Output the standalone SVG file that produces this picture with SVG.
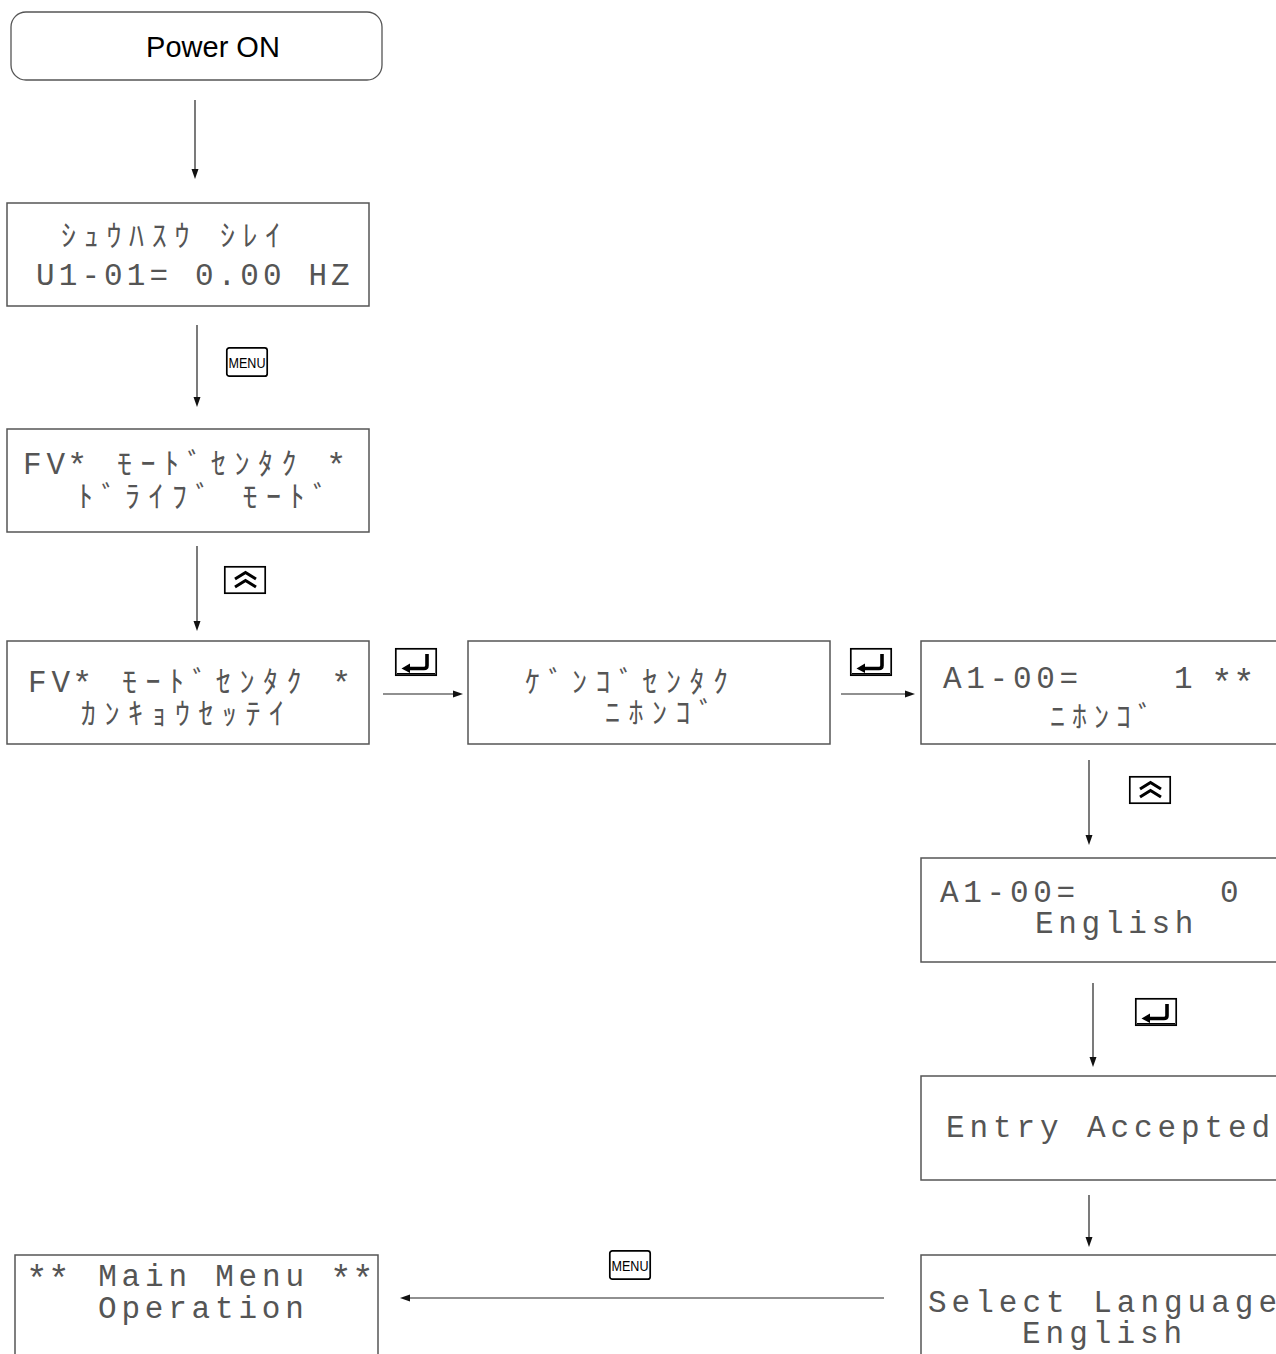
<svg xmlns="http://www.w3.org/2000/svg" xmlns:xlink="http://www.w3.org/1999/xlink" width="1276" height="1354" viewBox="0 0 1276 1354">
<style>
.box{fill:#fff;stroke:#555;stroke-width:1.5}
.lcd{font-family:"Liberation Mono","Noto Sans CJK JP",monospace;font-size:31px;fill:#555}
.kana{font-size:30px}
.ast{font-size:36px}
.ast2{font-size:34px}
.conn line{stroke:#222;stroke-width:1.2}
.ah{fill:#111}
.key{fill:#fff;stroke:#000;stroke-width:1.7}
</style>
<defs>
<g id="enterKey">
<rect class="key" x="0.8" y="0.8" width="40.4" height="26.4"/>
<line x1="2" y1="25.8" x2="40" y2="25.8" stroke="#000" stroke-width="1.4"/>
<path d="M32,6 V17.5 Q32,20.5 29,20.5 H13" fill="none" stroke="#000" stroke-width="3.6"/>
<polygon points="6.5,20.5 15,15.5 15,25" fill="#000"/>
</g>
<g id="upKey">
<rect class="key" x="0.8" y="0.8" width="40.4" height="26.4"/>
<polyline points="11,13 21.5,6.5 32,13" fill="none" stroke="#000" stroke-width="3"/>
<polyline points="11,21 21.5,14.5 32,21" fill="none" stroke="#000" stroke-width="3"/>
</g>
<g id="menuKey">
<rect class="key" x="0.8" y="0.8" width="40.4" height="28.4" rx="2.5"/>
<text x="2.5" y="21" textLength="37" lengthAdjust="spacingAndGlyphs" font-family="Liberation Sans, Arial, sans-serif" font-size="15.5" fill="#000">MENU</text>
</g>
</defs>
<rect width="1276" height="1354" fill="#fff"/>

<g id="power-on">
<rect x="11" y="12" width="371" height="68" rx="15" fill="#fff" stroke="#555" stroke-width="1.3"/>
<text x="213" y="57" text-anchor="middle" font-family="Liberation Sans, Arial, sans-serif" font-size="29" fill="#000">Power ON</text>
</g>

<g id="lcd-frequency">
<rect class="box" x="7" y="203" width="362" height="103"/>
<text class="lcd kana" y="246" x="61 83.7 106.4 129.1 151.8 174.5">ｼｭｳﾊｽｳ</text>
<text class="lcd kana" y="246" x="219.9 242.6 265.3">ｼﾚｲ</text>
<text class="lcd" y="285" x="36 58.7 81.4 104.1 126.8 149.5">U1-01=</text>
<text class="lcd" y="285" x="194.9 217.6 240.3 263">0.00</text>
<text class="lcd" y="285" x="308.4 331.1">HZ</text>
</g>

<g id="lcd-drive-mode">
<rect class="box" x="7" y="429" width="362" height="103"/>
<text class="lcd" y="474" x="23 46.5">FV</text>
<text class="lcd ast2" y="476" x="67">*</text>
<text class="lcd kana" y="474" x="117 140.5 164 187.5 211 234.5 258 281.5">ﾓｰﾄﾞｾﾝﾀｸ</text>
<text class="lcd ast2" y="476" x="326">*</text>
<text class="lcd kana" y="507" x="78 101.5 125 148.5 172 195.5">ﾄﾞﾗｲﾌﾞ</text>
<text class="lcd kana" y="507" x="242.5 266 289.5 313">ﾓｰﾄﾞ</text>
</g>

<g id="lcd-environment">
<rect class="box" x="7" y="641" width="362" height="103"/>
<text class="lcd" y="692" x="28 51.5">FV</text>
<text class="lcd ast2" y="694" x="72">*</text>
<text class="lcd kana" y="692" x="122 145.5 169 192.5 216 239.5 263 286.5">ﾓｰﾄﾞｾﾝﾀｸ</text>
<text class="lcd ast2" y="694" x="331">*</text>
<text class="lcd kana" y="724" x="81 104.5 128 151.5 175 198.5 222 245.5 269">ｶﾝｷｮｳｾｯﾃｲ</text>
</g>

<g id="lcd-language-select">
<rect class="box" x="468" y="641" width="362" height="103"/>
<text class="lcd kana" y="692" x="525 548.5 572 595.5 619 642.5 666 689.5 713">ｹﾞﾝｺﾞｾﾝﾀｸ</text>
<text class="lcd kana" y="723" x="605 628.5 652 675.5 699">ﾆﾎﾝｺﾞ</text>
</g>

<g id="lcd-a1-00-japanese">
<rect class="box" x="921" y="641" width="370" height="103"/>
<text class="lcd" y="688" x="943 966.3 989.6 1012.9 1036.2 1059.5">A1-00=</text>
<text class="lcd" y="688" x="1174">1</text>
<text class="lcd ast" y="695" x="1211 1233">**</text>
<text class="lcd kana" y="727" x="1050 1072 1094 1116 1138">ﾆﾎﾝｺﾞ</text>
</g>

<g id="lcd-a1-00-english">
<rect class="box" x="921" y="858" width="370" height="104"/>
<text class="lcd" y="902" x="940 963.3 986.6 1009.9 1033.2 1056.5">A1-00=</text>
<text class="lcd" y="902" x="1220">0</text>
<text class="lcd" y="933" x="1035 1058.3 1081.6 1104.9 1128.2 1151.5 1174.8">English</text>
</g>

<g id="lcd-entry-accepted">
<rect class="box" x="921" y="1076" width="370" height="104"/>
<text class="lcd" y="1137" x="946 969.5 993 1016.5 1040">Entry</text>
<text class="lcd" y="1137" x="1087 1110.5 1134 1157.5 1181 1204.5 1228 1251.5">Accepted</text>
</g>

<g id="lcd-select-language">
<rect class="box" x="921" y="1255" width="370" height="110"/>
<text class="lcd" y="1312" x="928 951.6 975.2 998.8 1022.4 1046">Select</text>
<text class="lcd" y="1312" x="1093.2 1116.8 1140.4 1164 1187.6 1211.2 1234.8 1258.4">Language</text>
<text class="lcd" y="1343" x="1022 1045.6 1069.2 1092.8 1116.4 1140 1163.6">English</text>
</g>

<g id="lcd-main-menu">
<rect class="box" x="15" y="1255" width="363" height="110"/>
<text class="lcd ast" y="1291" x="26 48">**</text>
<text class="lcd" y="1286" x="98.2 121.6 145 168.4">Main</text>
<text class="lcd" y="1286" x="215.2 238.6 262 285.4">Menu</text>
<text class="lcd ast" y="1291" x="330 352">**</text>
<text class="lcd" y="1318" x="98 121.4 144.8 168.2 191.6 215 238.4 261.8 285.2">Operation</text>
</g>

<g id="connectors" class="conn">
<line x1="195" y1="100" x2="195" y2="170"/>
<polygon class="ah" points="195,179 191.5,169 198.5,169"/>
<line x1="197" y1="325" x2="197" y2="398"/>
<polygon class="ah" points="197,407 193.5,397 200.5,397"/>
<use xlink:href="#menuKey" x="226" y="347"/>
<line x1="197" y1="546" x2="197" y2="622"/>
<polygon class="ah" points="197,631 193.5,621 200.5,621"/>
<use xlink:href="#upKey" x="224" y="566"/>
<line x1="383" y1="694" x2="454" y2="694"/>
<polygon class="ah" points="463,694 453,690.5 453,697.5"/>
<use xlink:href="#enterKey" x="395" y="648"/>
<line x1="841" y1="694" x2="906" y2="694"/>
<polygon class="ah" points="915,694 905,690.5 905,697.5"/>
<use xlink:href="#enterKey" x="850" y="648"/>
<line x1="1089" y1="760" x2="1089" y2="836"/>
<polygon class="ah" points="1089,845 1085.5,835 1092.5,835"/>
<use xlink:href="#upKey" x="1129" y="776"/>
<line x1="1093" y1="983" x2="1093" y2="1058"/>
<polygon class="ah" points="1093,1067 1089.5,1057 1096.5,1057"/>
<use xlink:href="#enterKey" x="1135" y="998"/>
<line x1="1089" y1="1195" x2="1089" y2="1238"/>
<polygon class="ah" points="1089,1247 1085.5,1237 1092.5,1237"/>
<line x1="884" y1="1298" x2="409" y2="1298"/>
<polygon class="ah" points="400,1298 410,1294.5 410,1301.5"/>
<use xlink:href="#menuKey" x="609" y="1250"/>
</g>
</svg>
